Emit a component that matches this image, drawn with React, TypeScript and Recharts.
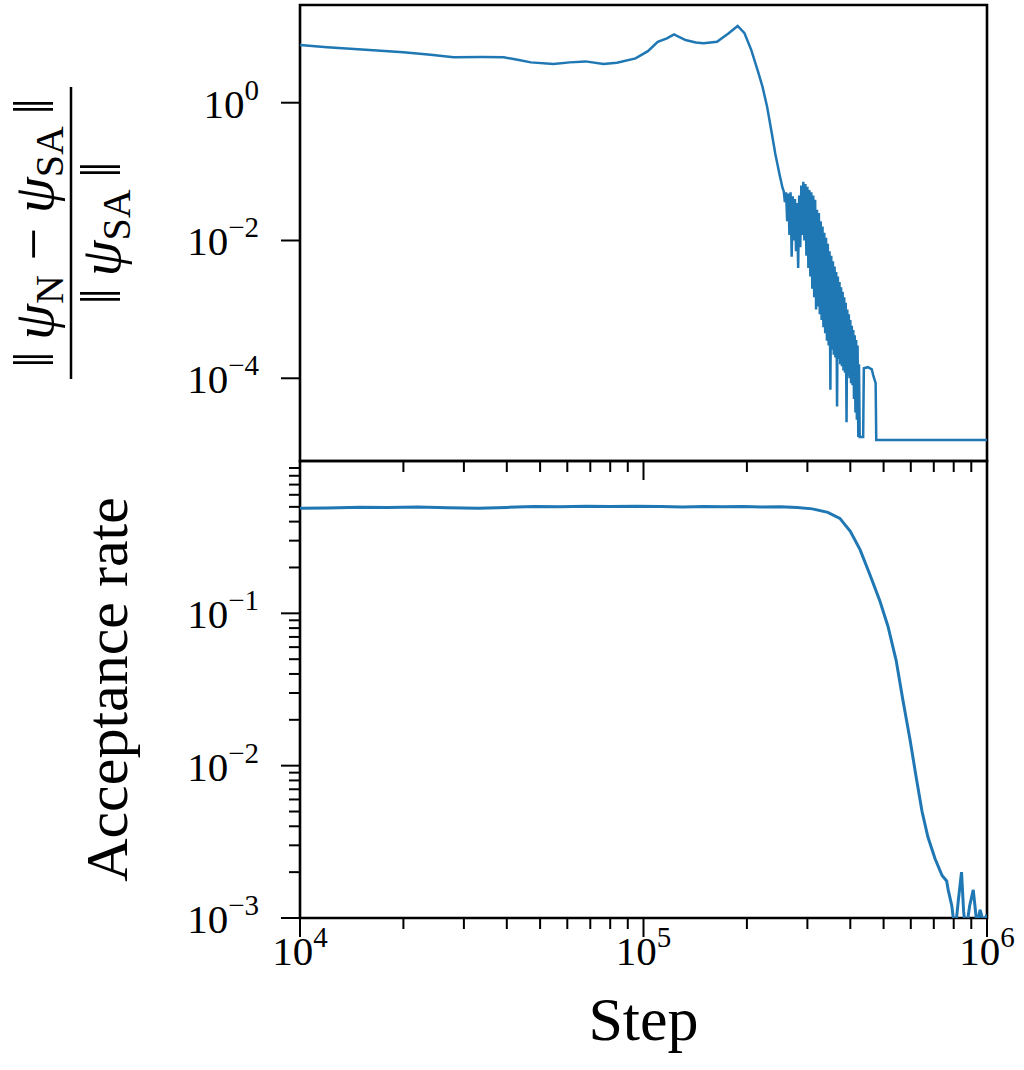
import React from 'react';
import { LineChart, Line, XAxis, YAxis, ReferenceArea } from 'recharts';

const FONT = '"Liberation Serif", "DejaVu Serif", serif';
const BLUE = '#1f77b4';

// ---------- axes ----------
const xMajorTicks = [1e4, 1e5, 1e6];
const xMajorExps = ['4', '5', '6'];
const xMinorTicks = [2e4, 3e4, 4e4, 5e4, 6e4, 7e4, 8e4, 9e4, 2e5, 3e5, 4e5, 5e5, 6e5, 7e5, 8e5, 9e5];
const xDomain = [1e4, 1e6];

const topYMajorTicks = [1, 1e-2, 1e-4];
const topYExps = ['0', '\u22122', '\u22124'];
const topYDomain = [6.3e-6, 26.2];

const botYMajorTicks = [1e-1, 1e-2, 1e-3];
const botYExps = ['\u22121', '\u22122', '\u22123'];
const botYMinorTicks = [
  2e-3, 3e-3, 4e-3, 5e-3, 6e-3, 7e-3, 8e-3, 9e-3,
  2e-2, 3e-2, 4e-2, 5e-2, 6e-2, 7e-2, 8e-2, 9e-2,
  2e-1, 3e-1, 4e-1, 5e-1, 6e-1, 7e-1, 8e-1, 9e-1,
];
const botYDomain = [1e-3, 1];

// ---------- top panel data: ||psi_N - psi_SA|| / ||psi_SA|| ----------
const errSmoothSteps = [
  1.0e4, 1.2e4, 1.475e4, 2.0e4, 2.4e4, 2.8e4, 3.4e4, 3.92e4, 4.3e4, 4.7e4,
  5.47e4, 6.1e4, 6.78e4, 7.65e4, 8.37e4, 9.48e4, 1.03e5, 1.1e5, 1.17e5, 1.227e5,
  1.325e5, 1.42e5, 1.496e5, 1.637e5, 1.77e5, 1.88e5, 1.968e5, 2.06e5, 2.155e5, 2.22e5,
  2.29e5, 2.363e5, 2.42e5, 2.49e5, 2.54e5,
];
const errSmoothValues = [
  6.9, 6.4, 5.96, 5.38, 4.95, 4.56, 4.6, 4.56, 4.2, 3.85,
  3.65, 3.85, 3.98, 3.65, 3.8, 4.4, 5.6, 7.67, 8.6, 9.84,
  8.13, 7.5, 7.28, 7.67, 10.2, 13.0, 10.2, 5.8, 2.82, 1.71,
  0.875, 0.36, 0.18, 0.09, 0.058,
];
// noisy band, steps in thousands
const errNoiseStepsK = [
  256, 258, 260, 262, 264, 266, 268, 270, 272, 274,
  276, 278, 280, 282, 284, 286, 288, 290, 292, 294,
  296, 298, 300, 302, 304, 306, 308, 310, 312, 314,
  316, 318, 320, 322, 324, 326, 328, 330, 332, 334,
  336, 338, 340, 342, 344, 346, 348, 350, 352, 354,
  356, 358, 360, 362, 364, 366, 368, 370, 372, 374,
  376, 378, 380, 382, 384, 386, 388, 390, 392, 394,
  396, 398, 400, 402, 404, 406, 408, 410, 412, 414,
  416, 418, 420, 422, 424, 426,
];
const errNoiseValues = [
  5.2e-2, 3.6e-2, 5.0e-2, 1.9e-2, 4.8e-2, 1.2e-2, 5.0e-2, 5.8e-3, 4.4e-2, 1.0e-2,
  4.0e-2, 7.0e-3, 3.5e-2, 4.0e-3, 4.5e-2, 8.0e-3, 6.3e-2, 1.2e-2, 7.1e-2, 1.0e-2,
  6.6e-2, 6.0e-3, 6.0e-2, 4.0e-3, 5.4e-2, 3.0e-3, 5.0e-2, 2.0e-3, 4.5e-2, 1.5e-3,
  3.9e-2, 1.0e-3, 2.8e-2, 1.1e-3, 2.5e-2, 8.5e-4, 1.9e-2, 7.0e-4, 1.6e-2, 5.5e-4,
  1.3e-2, 4.5e-4, 1.1e-2, 3.5e-4, 9.0e-3, 3.0e-4, 7.0e-3, 6.8e-5, 6.0e-3, 2.6e-4,
  5.0e-3, 2.2e-4, 4.2e-3, 2.0e-4, 3.5e-3, 3.9e-5, 3.0e-3, 1.9e-4, 2.5e-3, 1.6e-4,
  2.1e-3, 1.5e-4, 1.8e-3, 1.3e-4, 1.5e-3, 1.2e-4, 1.25e-3, 2.3e-5, 1.0e-3, 1.1e-4,
  8.5e-4, 1.0e-4, 7.0e-4, 8.5e-5, 5.8e-4, 7.9e-5, 5.0e-4, 5.0e-5, 4.2e-4, 3.2e-5,
  3.6e-4, 2.5e-5, 3.0e-4, 1.4e-5, 1.6e-4, 1.4e-5,
];
const errTailSteps = [4.36e5, 4.38e5, 4.5e5, 4.62e5, 4.66e5, 4.74e5, 4.76e5, 1.0e6];
const errTailValues = [1.4e-5, 1.4e-4, 1.45e-4, 1.35e-4, 1.12e-4, 8.5e-5, 1.27e-5, 1.27e-5];

// ---------- bottom panel data: acceptance rate ----------
const accSteps = [
  1e4, 1.2e4, 1.5e4, 1.8e4, 2.2e4, 2.7e4, 3.3e4, 4e4, 4.8e4, 5.7e4,
  6.8e4, 8e4, 9.5e4, 1.12e5, 1.3e5, 1.5e5, 1.7e5, 1.95e5, 2.2e5, 2.5e5,
  2.8e5, 3.1e5, 3.44e5, 3.73e5, 4.0e5, 4.27e5, 4.56e5, 4.88e5, 5.15e5, 5.44e5,
  5.69e5, 5.97e5, 6.21e5, 6.47e5, 6.73e5, 7.06e5, 7.4e5, 7.63e5, 7.71e5, 7.9e5,
  8.07e5, 8.25e5, 8.43e5, 8.55e5, 8.68e5, 8.9e5, 9.12e5, 9.35e5, 9.55e5, 9.75e5,
  1e6,
];
const accValues = [
  0.49, 0.492, 0.497, 0.495, 0.499, 0.494, 0.49, 0.496, 0.502, 0.5,
  0.504, 0.503, 0.505, 0.502, 0.498, 0.503, 0.5, 0.503, 0.498, 0.501,
  0.495, 0.485, 0.46, 0.42, 0.345, 0.262, 0.18, 0.12, 0.082, 0.049,
  0.027, 0.0148, 8.6e-3, 5.0e-3, 3.4e-3, 2.45e-3, 1.9e-3, 1.75e-3, 1.53e-3, 1.2e-3,
  8e-4, 1.3e-3, 2.0e-3, 1.1e-3, 8e-4, 1.2e-3, 1.53e-3, 9e-4, 1.13e-3, 9.5e-4,
  1.05e-3,
];

const errSteps = [...errSmoothSteps, ...errNoiseStepsK.map((k) => k * 1000), ...errTailSteps];
const errValues = [...errSmoothValues, ...errNoiseValues, ...errTailValues];
const topData = errSteps.map((s, i) => ({ step: s, err: errValues[i] }));
const botData = accSteps.map((s, i) => ({ step: s, acc: accValues[i] }));

const MAJOR_LEN = 19;
const MINOR_LEN = 11;
const TICK_W = 2;
const LABEL_SIZE = 41;
const SUP_SIZE = 29;
const TITLE_SIZE = 60;

function XTick(props: any) {
  const { x, y, payload, showLabels } = props;
  const idx = xMajorTicks.indexOf(payload.value);
  const major = idx >= 0;
  return (
    <g>
      <line x1={x} x2={x} y1={y} y2={y + (major ? MAJOR_LEN : MINOR_LEN)} stroke="#000" strokeWidth={TICK_W} />
      {showLabels && major ? (
        <text x={x} y={y + 47} textAnchor="middle" fontFamily={FONT} fontSize={LABEL_SIZE} fill="#000">
          10<tspan dy={-18} fontSize={SUP_SIZE}>{xMajorExps[idx]}</tspan>
        </text>
      ) : null}
    </g>
  );
}

function YTick(props: any) {
  const { x, y, payload, majors, exps } = props;
  const idx = majors.indexOf(payload.value);
  const major = idx >= 0;
  return (
    <g>
      <line x1={x - (major ? MAJOR_LEN : MINOR_LEN)} x2={x} y1={y} y2={y} stroke="#000" strokeWidth={TICK_W} />
      {major ? (
        <text x={x - 41} y={y + 15} textAnchor="end" fontFamily={FONT} fontSize={LABEL_SIZE} fill="#000">
          10<tspan dy={-18} fontSize={SUP_SIZE}>{exps[idx]}</tspan>
        </text>
      ) : null}
    </g>
  );
}

function TopYLabel(props: any) {
  const vb = props.viewBox || { x: 0, y: 5, width: 300, height: 456 };
  const cy = vb.y + vb.height / 2;
  const cx = 71;
  const fs = 58;
  const sub = 40;
  return (
    <g transform={`translate(${cx},${cy}) rotate(-90)`} fontFamily={FONT} fill="#000">
      <text x={0} y={-18} textAnchor="middle" fontSize={fs}>
        {'\u2016\u2009'}
        <tspan fontStyle="italic">{'\u03C8'}</tspan>
        <tspan fontSize={sub} dy={10}>N</tspan>
        <tspan dy={-10}>{' \u2212 '}</tspan>
        <tspan fontStyle="italic">{'\u03C8'}</tspan>
        <tspan fontSize={sub} dy={10}>SA</tspan>
        <tspan dy={-10}>{'\u2009\u2016'}</tspan>
      </text>
      <line x1={-146} x2={146} y1={0} y2={0} stroke="#000" strokeWidth={2.5} />
      <text x={0} y={49} textAnchor="middle" fontSize={fs}>
        {'\u2016\u2009'}
        <tspan fontStyle="italic">{'\u03C8'}</tspan>
        <tspan fontSize={sub} dy={10}>SA</tspan>
        <tspan dy={-10}>{'\u2009\u2016'}</tspan>
      </text>
    </g>
  );
}

function BotYLabel(props: any) {
  const vb = props.viewBox || { x: 0, y: 461, width: 300, height: 457 };
  const cy = vb.y + vb.height / 2;
  return (
    <text
      transform={`translate(127,${cy}) rotate(-90)`}
      textAnchor="middle"
      fontFamily={FONT}
      fontSize={TITLE_SIZE}
      fill="#000"
    >
      Acceptance rate
    </text>
  );
}

function StepLabel(props: any) {
  const vb = props.viewBox || { x: 300, y: 918, width: 687, height: 152 };
  const cx = vb.x + vb.width / 2;
  return (
    <text x={cx} y={1040} textAnchor="middle" fontFamily={FONT} fontSize={TITLE_SIZE + 2} fill="#000">
      Step
    </text>
  );
}

const allXTicks = [...xMajorTicks, ...xMinorTicks];

export default function App() {
  return (
    <div style={{ position: 'absolute', left: 0, top: 0, width: 1024, height: 1070, background: '#fff' }}>
      <div style={{ position: 'absolute', left: 0, top: 0 }}>
        <LineChart width={1024} height={1070} data={topData} margin={{ top: 5, right: 37, bottom: 589, left: 0 }}>
          <XAxis
            dataKey="step"
            type="number"
            scale="log"
            domain={xDomain}
            allowDataOverflow
            ticks={allXTicks}
            interval={0}
            height={20}
            axisLine={false}
            tickLine={false}
            tickSize={0}
            tickMargin={0}
            tick={(p: any) => <XTick {...p} showLabels={false} />}
          />
          <YAxis
            type="number"
            scale="log"
            domain={topYDomain}
            allowDataOverflow
            ticks={topYMajorTicks}
            interval={0}
            width={300}
            axisLine={false}
            tickLine={false}
            tickSize={0}
            tickMargin={0}
            tick={(p: any) => <YTick {...p} majors={topYMajorTicks} exps={topYExps} />}
            label={{ content: (p: any) => <TopYLabel {...p} /> }}
          />
          <Line
            dataKey="err"
            type="linear"
            stroke={BLUE}
            strokeWidth={2.5}
            dot={false}
            activeDot={false}
            isAnimationActive={false}
          />
          <ReferenceArea
            x1={xDomain[0]}
            x2={xDomain[1]}
            y1={topYDomain[0]}
            y2={topYDomain[1]}
            fill="none"
            fillOpacity={0}
            stroke="#000"
            strokeWidth={2.6}
            ifOverflow="visible"
          />
        </LineChart>
      </div>
      <div style={{ position: 'absolute', left: 0, top: 0 }}>
        <LineChart width={1024} height={1070} data={botData} margin={{ top: 461, right: 37, bottom: 0, left: 0 }}>
          <XAxis
            dataKey="step"
            type="number"
            scale="log"
            domain={xDomain}
            allowDataOverflow
            ticks={allXTicks}
            interval={0}
            height={152}
            axisLine={false}
            tickLine={false}
            tickSize={0}
            tickMargin={0}
            tick={(p: any) => <XTick {...p} showLabels={true} />}
            label={{ content: (p: any) => <StepLabel {...p} /> }}
          />
          <YAxis
            type="number"
            scale="log"
            domain={botYDomain}
            allowDataOverflow
            ticks={[...botYMajorTicks, ...botYMinorTicks]}
            interval={0}
            width={300}
            axisLine={false}
            tickLine={false}
            tickSize={0}
            tickMargin={0}
            tick={(p: any) => <YTick {...p} majors={botYMajorTicks} exps={botYExps} />}
            label={{ content: (p: any) => <BotYLabel {...p} /> }}
          />
          <Line
            dataKey="acc"
            type="linear"
            stroke={BLUE}
            strokeWidth={3}
            dot={false}
            activeDot={false}
            isAnimationActive={false}
          />
          <ReferenceArea
            x1={xDomain[0]}
            x2={xDomain[1]}
            y1={botYDomain[0]}
            y2={botYDomain[1]}
            fill="none"
            fillOpacity={0}
            stroke="#000"
            strokeWidth={2.6}
            ifOverflow="visible"
          />
        </LineChart>
      </div>
    </div>
  );
}
